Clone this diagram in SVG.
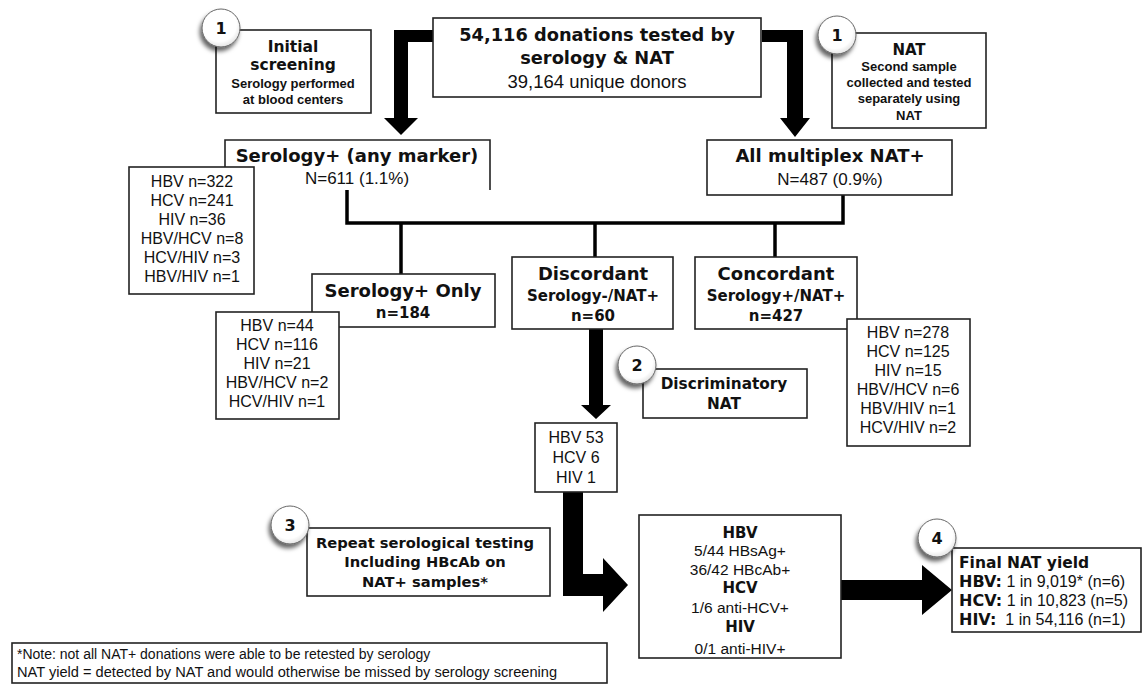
<svg xmlns="http://www.w3.org/2000/svg" width="1144" height="684" viewBox="0 0 1144 684">
<defs>
<style>
.box{fill:#fff;stroke:#222;stroke-width:1.6}
.t{font-family:"Liberation Sans",Arial,sans-serif;fill:#111;text-anchor:middle}
.k{font-family:"DejaVu Sans","Liberation Sans",sans-serif;font-weight:700;fill:#111;text-anchor:middle}
.st{text-anchor:start}
.kb{font-family:"DejaVu Sans","Liberation Sans",sans-serif;font-weight:700}
.n{font-size:16px}
.s{font-size:13px;font-weight:700}
.thick{fill:#000}
.thin{fill:none;stroke:#000;stroke-width:3.5}
.num{font-family:"DejaVu Sans","Liberation Sans",sans-serif;font-weight:700;font-size:16px;text-anchor:middle;fill:#111}
.circ{fill:url(#cg);stroke:#666;stroke-width:1}
</style>
<filter id="sh" x="-50%" y="-50%" width="200%" height="200%">
<feDropShadow dx="-2" dy="4" stdDeviation="2" flood-color="#000" flood-opacity="0.6"/>
</filter>
<radialGradient id="cg" cx="0.45" cy="0.4" r="0.65">
<stop offset="0.7" stop-color="#fff"/>
<stop offset="1" stop-color="#ddd"/>
</radialGradient>
</defs>
<rect width="1144" height="684" fill="#fff"/>

<g id="connectors">
<polygon class="thick" points="433,30 394,30 394,118 384,118 401,135 418,118 408,118 408,42 433,42"/>
<polygon class="thick" points="762,30 803,30 803,118 810,118 795,137 780,118 787,118 787,42 762,42"/>
<path class="thin" d="M347,190 V223 H843 V195"/>
<line class="thin" x1="401" y1="223" x2="401" y2="274"/>
<line class="thin" x1="595" y1="223" x2="595" y2="257"/>
<line class="thin" x1="775" y1="223" x2="775" y2="257"/>
<polygon class="thick" points="589,329 603,329 603,405 611,405 596,419 581,405 589,405"/>
<polygon class="thick" points="563,492 583,492 583,574 603,574 603,558 628,585 603,612 603,596 563,596"/>
<polygon class="thick" points="841,580 922,580 922,565 952,590 922,615 922,600 841,600"/>
</g>

<g id="top">
<rect class="box" x="433" y="18" width="328" height="79"/>
<text class="k" x="597" y="41" font-size="17.8">54,116 donations tested by</text>
<text class="k" x="597" y="64" font-size="17.8">serology &amp; NAT</text>
<text class="t" x="597" y="88" font-size="18.5">39,164 unique donors</text>
</g>

<g id="initial-screening">
<rect class="box" x="216" y="30" width="155" height="83"/>
<text class="k" x="293" y="52" font-size="15.5">Initial</text>
<text class="k" x="293" y="70" font-size="15.5">screening</text>
<text class="t s" x="293" y="88">Serology performed</text>
<text class="t s" x="293" y="104">at blood centers</text>
<circle class="circ" cx="221" cy="28" r="19" filter="url(#sh)"/>
<text class="num" x="221" y="34">1</text>
</g>

<g id="nat-step">
<rect class="box" x="832" y="33" width="154" height="95"/>
<text class="k" x="909" y="55" font-size="15">NAT</text>
<text class="t s" x="909" y="71">Second sample</text>
<text class="t s" x="909" y="87">collected and tested</text>
<text class="t s" x="909" y="103">separately using</text>
<text class="t s" x="909" y="120">NAT</text>
<circle class="circ" cx="837" cy="35" r="19" filter="url(#sh)"/>
<text class="num" x="837" y="41">1</text>
</g>

<g id="serology-pos">
<path d="M225,190 V140 H490 V190" fill="#fff" stroke="#222" stroke-width="1.6"/>
<text class="k" x="357" y="162" font-size="18">Serology+ (any marker)</text>
<text class="t" x="357" y="184" font-size="17">N=611 (1.1%)</text>
</g>

<g id="nat-pos">
<rect class="box" x="707" y="140" width="245" height="55"/>
<text class="k" x="830" y="162" font-size="18">All multiplex NAT+</text>
<text class="t" x="830" y="185" font-size="17">N=487 (0.9%)</text>
</g>

<g id="serology-list">
<rect class="box" x="129" y="167" width="125" height="127"/>
<text class="t n" x="192" y="187">HBV n=322</text>
<text class="t n" x="192" y="206">HCV n=241</text>
<text class="t n" x="192" y="225">HIV n=36</text>
<text class="t n" x="192" y="244">HBV/HCV n=8</text>
<text class="t n" x="192" y="263">HCV/HIV n=3</text>
<text class="t n" x="192" y="282">HBV/HIV n=1</text>
</g>

<g id="serology-only">
<rect class="box" x="312" y="274" width="183" height="53"/>
<text class="k" x="403" y="297" font-size="18">Serology+ Only</text>
<text class="k" x="403" y="318" font-size="15">n=184</text>
</g>

<g id="serology-only-list">
<rect class="box" x="216" y="312" width="123" height="107"/>
<text class="t n" x="277" y="331">HBV n=44</text>
<text class="t n" x="277" y="350">HCV n=116</text>
<text class="t n" x="277" y="369">HIV n=21</text>
<text class="t n" x="277" y="388">HBV/HCV n=2</text>
<text class="t n" x="277" y="407">HCV/HIV n=1</text>
</g>

<g id="discordant">
<rect class="box" x="512" y="257" width="161" height="72"/>
<text class="k" x="593" y="280" font-size="18">Discordant</text>
<text class="k" x="593" y="301" font-size="15">Serology-/NAT+</text>
<text class="k" x="593" y="321" font-size="15">n=60</text>
</g>

<g id="concordant">
<rect class="box" x="695" y="257" width="162" height="72"/>
<text class="k" x="776" y="280" font-size="18">Concordant</text>
<text class="k" x="776" y="301" font-size="15">Serology+/NAT+</text>
<text class="k" x="776" y="321" font-size="15">n=427</text>
</g>

<g id="concordant-list">
<rect class="box" x="847" y="319" width="123" height="127"/>
<text class="t n" x="908" y="338">HBV n=278</text>
<text class="t n" x="908" y="357">HCV n=125</text>
<text class="t n" x="908" y="376">HIV n=15</text>
<text class="t n" x="908" y="395">HBV/HCV n=6</text>
<text class="t n" x="908" y="414">HBV/HIV n=1</text>
<text class="t n" x="908" y="433">HCV/HIV n=2</text>
</g>

<g id="discriminatory">
<rect class="box" x="643" y="369" width="164" height="49"/>
<text class="k" x="724" y="389" font-size="15.3">Discriminatory</text>
<text class="k" x="724" y="409" font-size="15.3">NAT</text>
<circle class="circ" cx="637" cy="365" r="19" filter="url(#sh)"/>
<text class="num" x="637" y="371">2</text>
</g>

<g id="discriminatory-result">
<rect class="box" x="535" y="423" width="82" height="69"/>
<text class="t" x="576" y="443" font-size="16">HBV 53</text>
<text class="t" x="576" y="463" font-size="16">HCV 6</text>
<text class="t" x="576" y="483" font-size="16">HIV 1</text>
</g>

<g id="repeat">
<rect class="box" x="307" y="528" width="243" height="68"/>
<text class="k" x="425" y="548" font-size="14.7">Repeat serological testing</text>
<text class="k" x="425" y="567" font-size="14.7">Including HBcAb on</text>
<text class="k" x="425" y="587" font-size="14.7">NAT+ samples*</text>
<circle class="circ" cx="290" cy="525" r="19" filter="url(#sh)"/>
<text class="num" x="290" y="531">3</text>
</g>

<g id="repeat-result">
<rect class="box" x="639" y="515" width="202" height="143"/>
<text class="k" x="740" y="538" font-size="15">HBV</text>
<text class="t" x="740" y="556" font-size="15.5">5/44 HBsAg+</text>
<text class="t" x="740" y="575" font-size="15.5">36/42 HBcAb+</text>
<text class="k" x="740" y="593" font-size="15">HCV</text>
<text class="t" x="740" y="613" font-size="15.5">1/6 anti-HCV+</text>
<text class="k" x="740" y="632" font-size="15">HIV</text>
<text class="t" x="740" y="654" font-size="15.5">0/1 anti-HIV+</text>
</g>

<g id="final-yield">
<rect class="box" x="952" y="548" width="189" height="84"/>
<text class="k st" x="959" y="568" font-size="15.5">Final NAT yield</text>
<text class="t st" x="959" y="587" font-size="16"><tspan class="kb">HBV:</tspan> 1 in 9,019* (n=6)</text>
<text class="t st" x="959" y="606" font-size="16"><tspan class="kb">HCV:</tspan> 1 in 10,823 (n=5)</text>
<text class="t st" x="959" y="625" font-size="16" xml:space="preserve"><tspan class="kb">HIV:</tspan>  1 in 54,116 (n=1)</text>
<circle class="circ" cx="937" cy="538" r="19" filter="url(#sh)"/>
<text class="num" x="937" y="544">4</text>
</g>

<g id="note">
<rect class="box" x="12" y="643" width="595" height="40"/>
<text class="t st" x="17" y="659" font-size="14">*Note: not all NAT+ donations were able to be retested by serology</text>
<text class="t st" x="17" y="677" font-size="14" textLength="540" lengthAdjust="spacingAndGlyphs">NAT yield = detected by NAT and would otherwise be missed by serology screening</text>
</g>
</svg>
